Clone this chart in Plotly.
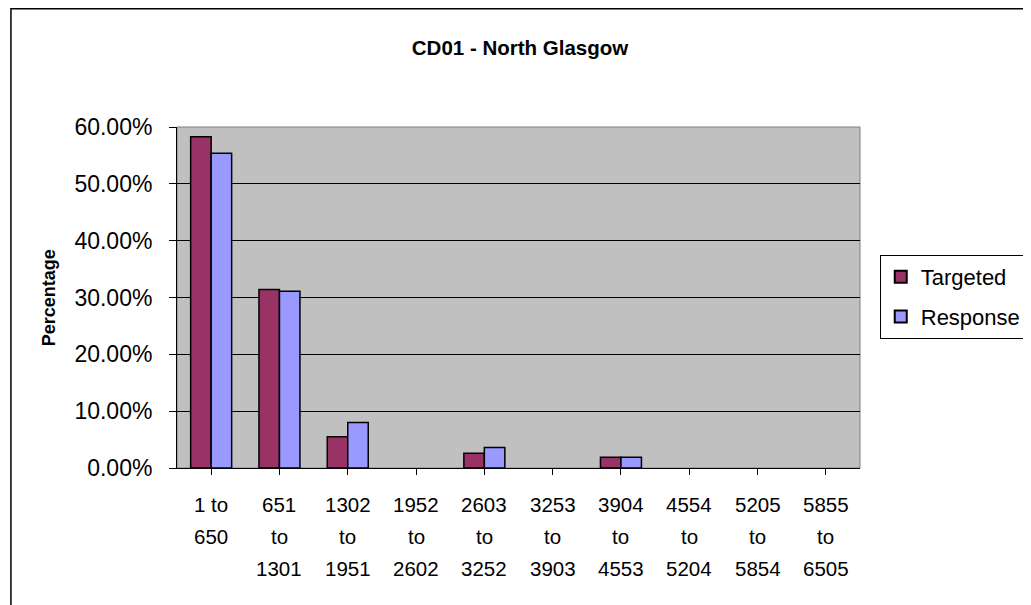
import plotly.graph_objects as go

categories = ["1 to|650", "651|to|1301", "1302|to|1951", "1952|to|2602", "2603|to|3252",
              "3253|to|3903", "3904|to|4553", "4554|to|5204", "5205|to|5854", "5855|to|6505"]
targeted = [0.583, 0.314, 0.055, 0.0, 0.026, 0.0, 0.019, 0.0, 0.0, 0.0]
response = [0.554, 0.311, 0.080, 0.0, 0.036, 0.0, 0.019, 0.0, 0.0, 0.0]
y_ticks = [0.0, 0.1, 0.2, 0.3, 0.4, 0.5, 0.6]

FONT = "Liberation Sans, Arial, sans-serif"
W, H = 1031, 605
OFF = 8  # page offset of the figure inside the browser window
L, R, T, B = 177 - OFF, 869 - OFF, 127 - OFF, 468 - OFF
pw, ph = R - L, B - T


def px_x(sx):
    return (sx - OFF - L) / pw


def px_y(sy):
    return (B - (sy - OFF)) / ph


fig = go.Figure()
fig.add_trace(go.Bar(x=list(range(len(categories))), y=[v if v else None for v in targeted],
                     name="Targeted", legendgroup="a",
                     marker=dict(color="#993366", line=dict(color="black", width=1.5))))
fig.add_trace(go.Bar(x=list(range(len(categories))), y=[v if v else None for v in response],
                     name="Response", legendgroup="b",
                     marker=dict(color="#9999FF", line=dict(color="black", width=1.5))))

annotations = []
for i, lab in enumerate(categories):
    for j, line in enumerate(lab.split("|")):
        annotations.append(dict(x=i, xref="x", y=px_y(505 + 31.5 * j), yref="paper",
                                text=line, showarrow=False, xanchor="center", yanchor="middle",
                                font=dict(family=FONT, size=20.5, color="black")))
annotations.append(dict(x=px_x(47), xref="paper", y=0.5, yref="paper", text="<b>Percentage</b>",
                        textangle=-90, showarrow=False, xanchor="center", yanchor="middle",
                        font=dict(family=FONT, size=18, color="black")))

fig.update_layout(
    width=W, height=H,
    margin=dict(l=L, r=W - R, t=T, b=H - B, pad=0),
    paper_bgcolor="white", plot_bgcolor="#C0C0C0",
    font=dict(family=FONT, size=20, color="black"),
    title=dict(text="<b>CD01 - North Glasgow</b>", x=(520 - OFF) / W, xref="container",
               xanchor="center", y=1 - (48 - OFF) / H, yref="container", yanchor="middle",
               font=dict(family=FONT, size=20.5, color="black")),
    barmode="group", bargap=0.4, bargroupgap=0.0,
    showlegend=True,
    legend=dict(x=px_x(889), xanchor="left", y=px_y(255), yanchor="top",
                bordercolor="black", borderwidth=1, bgcolor="white",
                font=dict(family=FONT, size=22, color="black"),
                traceorder="grouped", tracegroupgap=8, itemsizing="constant"),
    annotations=annotations,
    shapes=[
        dict(type="rect", xref="paper", yref="paper", x0=0, x1=1, y0=0, y1=1,
             line=dict(color="#808080", width=1), layer="below"),
        dict(type="rect", xref="paper", yref="paper", x0=(0.75 - L) / pw, x1=(1060 - L) / pw,
             y0=(B - 640) / ph, y1=(B - 0.75) / ph, line=dict(color="black", width=1.5),
             fillcolor="rgba(0,0,0,0)", layer="above"),
    ],
)
fig.update_xaxes(range=[-0.5, len(categories) - 0.5], tickvals=list(range(len(categories))),
                 ticktext=[""] * len(categories), tickson="boundaries",
                 showline=True, linecolor="black", linewidth=1, ticks="outside", ticklen=6,
                 tickcolor="black", showgrid=False, zeroline=False, fixedrange=True)
fig.update_yaxes(range=[0, 0.6], tickvals=y_ticks, tickformat=".2%",
                 showline=True, linecolor="black", linewidth=1, ticks="outside", ticklen=7,
                 tickcolor="black", showgrid=True, gridcolor="black", gridwidth=1,
                 zeroline=False, ticklabelstandoff=12,
                 tickfont=dict(family=FONT, size=23, color="black"), fixedrange=True)

fig.write_html("out.html")
